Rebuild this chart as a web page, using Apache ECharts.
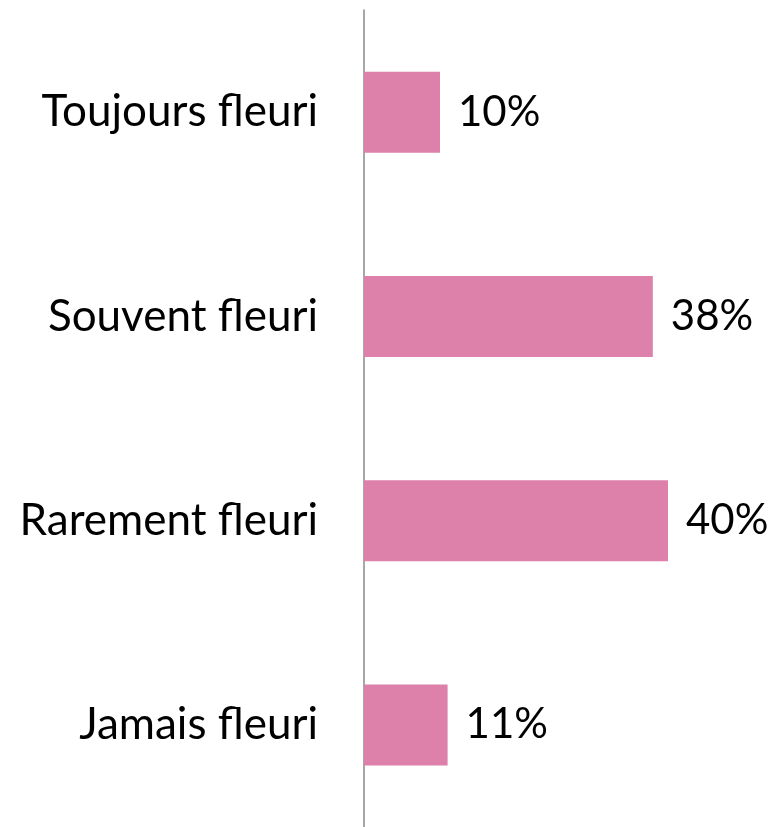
<!DOCTYPE html>
<html>
<head>
<meta charset="utf-8">
<script src="https://cdn.jsdelivr.net/npm/echarts@6/dist/echarts.min.js"></script>
<style>
  html, body { margin: 0; padding: 0; background: #fff; }
  #chart { width: 771px; height: 827px; }
</style>
</head>
<body>
<div id="chart"></div>
<script>
// 데이터
const categories = ['Toujours fleuri', 'Souvent fleuri', 'Rarement fleuri', 'Jamais fleuri']
const values = [10, 38, 40, 11]

const chart = echarts.init(document.getElementById('chart'))

const option = {
  animation: false,
  grid: {
    left: 364,
    top: 10,
    width: 380,
    height: 824
  },
  xAxis: {
    type: 'value',
    min: 0,
    max: 50,
    show: false
  },
  yAxis: {
    type: 'category',
    inverse: true,
    data: categories,
    axisLine: {
      show: true,
      lineStyle: { color: '#8a8a8a', width: 1.5 }
    },
    axisTick: { show: false },
    axisLabel: {
      margin: 46,
      color: '#000',
      fontFamily: 'Lato',
      fontSize: 44
    }
  },
  series: [
    {
      type: 'bar',
      data: values,
      barWidth: 81,
      itemStyle: { color: '#dd80aa' },
      label: {
        show: true,
        position: 'right',
        distance: 18,
        formatter: '{c}%',
        color: '#000',
        fontFamily: 'Lato',
        fontSize: 42
      }
    }
  ]
}

chart.setOption(option)
</script>
</body>
</html>
